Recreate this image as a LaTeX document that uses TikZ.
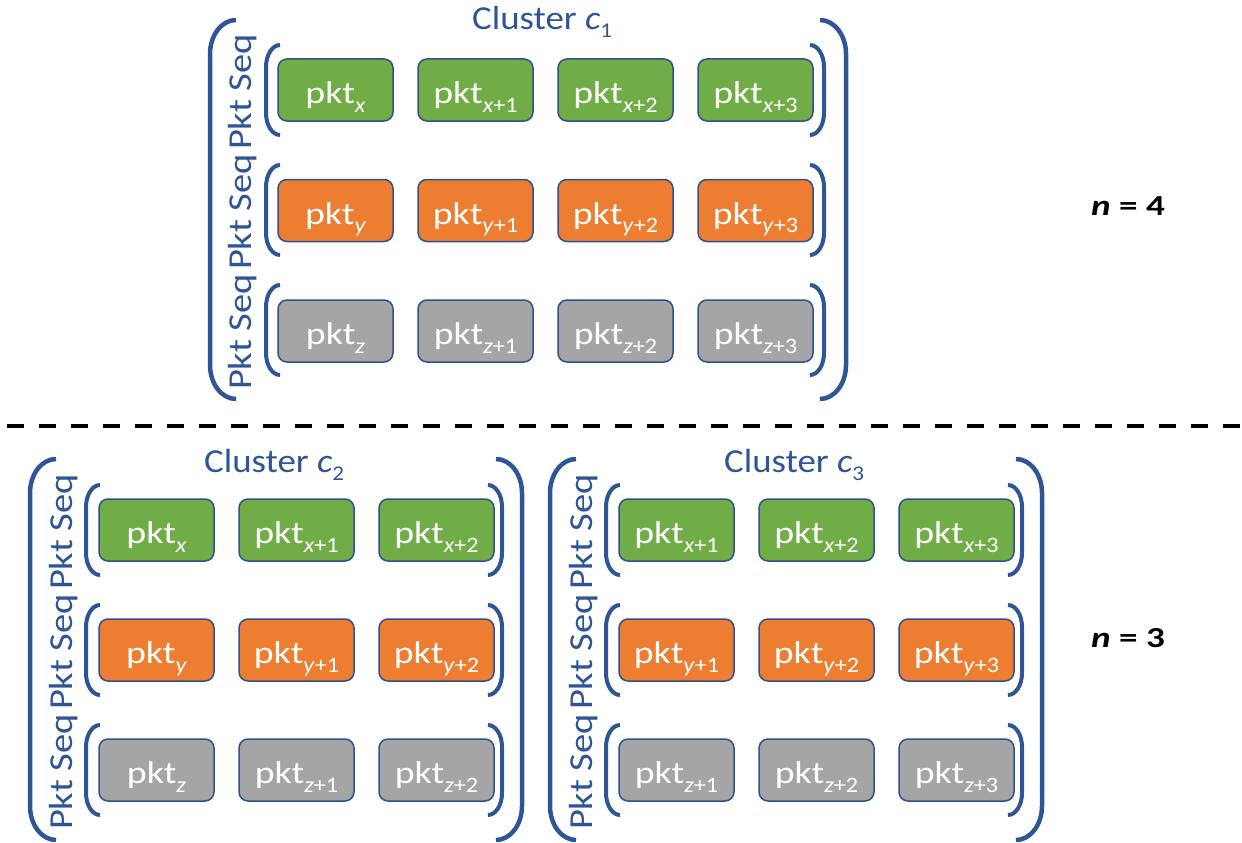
\documentclass[tikz,border=0pt]{standalone}
\usepackage{fontspec}
\setmainfont{Carlito}
\usetikzlibrary{calc}

\definecolor{pktgreen}{HTML}{70AD47}
\definecolor{pktorange}{HTML}{ED7D31}
\definecolor{pktgray}{HTML}{A5A5A5}
\definecolor{pktedge}{HTML}{2F528F}
\definecolor{brakblue}{HTML}{2F5597}

% packet label: widened "pkt" with a lowered, smaller index
\newcommand\pk[2]{\scalebox{1.2}[1]{\fontsize{31.5}{31.5}\selectfont pkt}%
  \raisebox{-8.4pt}{\scalebox{1.1}[1]{\fontsize{22}{22}\selectfont\textit{#1}#2}}}
% cluster caption with its index
\newcommand\clname[1]{\scalebox{1.1}[1]{\fontsize{33.5}{33.5}\selectfont Cluster \textit{c}%
  \raisebox{-8pt}{\fontsize{21}{21}\selectfont #1}}}
% rotated sequence caption
\newcommand\seqname{\scalebox{1}[0.87]{\fontsize{38.5}{38.5}\selectfont Pkt Seq}}
% size of a set
\newcommand\nval[1]{\scalebox{1.28}[1]{\fontsize{29}{29}\selectfont\bfseries\textit{n} = #1}}

% brackets drawn with quarter-ellipse corners
% \lbrak[style]{x tip}{x spine}{y top}{y bottom}{corner height}
\newcommand\lbrak[6][]{%
  \draw[#1] (#2,#4) .. controls ({#2-0.5523*(#2-#3)},#4) and (#3,{#4+#6*0.4477}) .. (#3,{#4+#6})
    -- (#3,{#5-#6}) .. controls (#3,{#5-#6*0.4477}) and ({#2-0.5523*(#2-#3)},#5) .. (#2,#5);}

\tikzset{
  pkt/.style={draw=pktedge, line width=1.5pt, rounded corners=9pt, minimum width=115pt,
    minimum height=62pt, inner sep=0pt, text=white, text height=27.5pt, text depth=0pt},
  inbrak/.style={draw=brakblue, line width=4pt},
  outbrak/.style={draw=brakblue, line width=4.5pt},
  seqlab/.style={rotate=90, text=brakblue, inner sep=0pt},
  clab/.style={text=brakblue, inner sep=0pt, anchor=base west},
  nlab/.style={inner sep=0pt, anchor=base west},
}

\begin{document}
\begin{tikzpicture}[x=1pt, y=-1pt]
\useasboundingbox (0,0) rectangle (1242,843);

% ---------------- cluster c1, n = 4 ----------------
\foreach \cx [count=\i] in {335.5,475.5,615.5,755.5} {
  \pgfmathtruncatemacro\k{\i-1}
  \ifnum\k=0
    \node[pkt, fill=pktgreen]  (a\i) at (\cx,90)    {\pk{x}{}};
    \node[pkt, fill=pktorange] (b\i) at (\cx,210.5) {\pk{y}{}};
    \node[pkt, fill=pktgray]   (c\i) at (\cx,331)   {\pk{z}{}};
  \else
    \node[pkt, fill=pktgreen]  (a\i) at (\cx,90)    {\pk{x}{+\k}};
    \node[pkt, fill=pktorange] (b\i) at (\cx,210.5) {\pk{y}{+\k}};
    \node[pkt, fill=pktgray]   (c\i) at (\cx,331)   {\pk{z}{+\k}};
  \fi
}
\foreach \cy in {90,210,330} {
  \lbrak[inbrak]{280}{266}{\cy-45}{\cy+45}{22}
  \lbrak[inbrak]{810}{824}{\cy-45}{\cy+45}{22}
}
\lbrak[outbrak]{236}{210}{20}{399}{34}
\lbrak[outbrak]{820}{846}{20}{399}{34}
\node[seqlab] (s1a) at (243,92)  {\seqname};
\node[seqlab] (s1b) at (243,212) {\seqname};
\node[seqlab] (s1c) at (243,332) {\seqname};
\node[clab] (c1lab) at (472,30) {\clname{1}};
\node[nlab] (n4) at (1091,215) {\nval{4}};

% ---------------- separator ----------------
\coordinate (sepL) at (7,426);
\coordinate (sepR) at (1242,426);
\draw[line width=4.5pt, dash pattern=on 17pt off 15pt] (sepL) -- (sepR);

% ---------------- clusters c2 and c3, n = 3 ----------------
% both use the same layout; c2 sits 520pt to the left of c3 and starts one index lower
\foreach \dx/\off/\cl in {-520/0/2, 0/1/3} {
  \begin{scope}[shift={(\dx,0)}]
    \foreach \cx [count=\i] in {676.5,816.5,956.5} {
      \pgfmathtruncatemacro\k{\i-1+\off}
      \ifnum\k=0
        \node[pkt, fill=pktgreen]  (r\cl a\i) at (\cx,530) {\pk{x}{}};
        \node[pkt, fill=pktorange] (r\cl b\i) at (\cx,650) {\pk{y}{}};
        \node[pkt, fill=pktgray]   (r\cl c\i) at (\cx,770) {\pk{z}{}};
      \else
        \node[pkt, fill=pktgreen]  (r\cl a\i) at (\cx,530) {\pk{x}{+\k}};
        \node[pkt, fill=pktorange] (r\cl b\i) at (\cx,650) {\pk{y}{+\k}};
        \node[pkt, fill=pktgray]   (r\cl c\i) at (\cx,770) {\pk{z}{+\k}};
      \fi
    }
    \foreach \cy in {530,650,770} {
      \lbrak[inbrak]{620}{606}{\cy-45}{\cy+45}{22}
      \lbrak[inbrak]{1008}{1022}{\cy-45}{\cy+45}{22}
    }
    \lbrak[outbrak]{576}{550}{459}{840}{34}
    \lbrak[outbrak]{1016}{1042}{459}{840}{34}
    \node[seqlab] (s\cl a) at (584,532) {\seqname};
    \node[seqlab] (s\cl b) at (584,652) {\seqname};
    \node[seqlab] (s\cl c) at (584,772) {\seqname};
    \node[clab] (c\cl lab) at (724,472) {\clname{\cl}};
  \end{scope}
}
\node[nlab] (n3) at (1091,647) {\nval{3}};
\end{tikzpicture}
\end{document}
